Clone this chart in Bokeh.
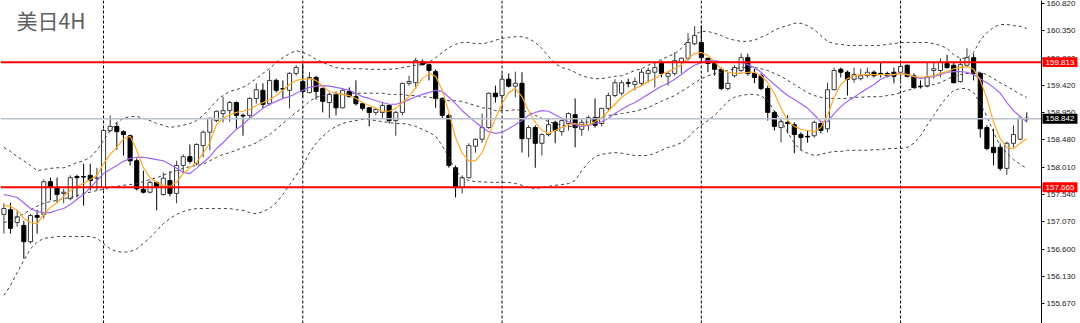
from bokeh.plotting import figure
from bokeh.models import Range1d, FixedTicker, PrintfTickFormatter, Span, Label, ColumnDataSource, LinearAxis
from bokeh.core.properties import value
from bokeh.embed import file_html
from bokeh.resources import INLINE

title_text = "美日4H"

opens = [157.20, 157.28, 157.06, 157.01, 156.73, 157.18, 157.20, 157.76, 157.66, 157.56,
         157.47, 157.85, 157.85, 157.87, 157.82, 157.66, 158.64, 158.71, 158.62, 158.55,
         158.12, 157.63, 157.58, 157.75, 157.54, 157.78, 157.56, 158.04, 158.19, 158.07,
         158.38, 158.61, 158.81, 158.93, 158.98, 159.12, 158.90, 158.90, 159.19, 159.33,
         159.10, 159.50, 159.36, 159.33, 159.62, 159.48, 159.29, 159.55, 159.36, 159.12,
         159.26, 159.03, 159.31, 159.22, 159.10, 159.03, 158.95, 158.95, 159.07, 158.81,
         158.95, 159.45, 159.46, 159.82, 159.77, 159.65, 159.19, 158.90, 158.00, 157.66,
         157.83, 158.37, 158.49, 158.69, 159.28, 159.24, 159.52, 159.40, 159.45, 158.50,
         158.69, 158.42, 158.57, 158.78, 158.62, 158.76, 158.91, 158.66, 158.74, 158.86,
         158.76, 159.02, 159.24, 159.28, 159.46, 159.43, 159.45, 159.62, 159.64, 159.79,
         159.57, 159.62, 159.81, 159.88, 160.13, 160.15, 159.88, 159.79, 159.69, 159.36,
         159.58, 159.67, 159.89, 159.62, 159.58, 159.36, 158.95, 158.69, 158.78, 158.74,
         158.57, 158.54, 158.55, 158.76, 158.67, 159.34, 159.69, 159.64, 159.52, 159.53,
         159.58, 159.64, 159.62, 159.62, 159.64, 159.64, 159.76, 159.58, 159.40, 159.40,
         159.67, 159.67, 159.79, 159.76, 159.48, 159.76, 159.89, 159.62, 158.69, 158.35,
         158.35, 157.99, 158.42, 158.49, 158.85]
highs = [157.39, 157.40, 157.27, 157.09, 157.21, 157.28, 157.80, 157.83, 157.83, 157.64,
         157.87, 157.88, 158.07, 158.07, 158.00, 158.67, 158.90, 158.78, 158.64, 158.57,
         158.16, 157.95, 157.78, 157.76, 157.92, 157.94, 158.12, 158.23, 158.40, 158.42,
         158.64, 158.86, 158.98, 159.22, 159.15, 159.14, 158.93, 159.21, 159.45, 159.45,
         159.67, 159.53, 159.50, 159.64, 159.76, 159.79, 159.64, 159.58, 159.38, 159.29,
         159.31, 159.36, 159.38, 159.50, 159.12, 159.04, 159.03, 159.12, 159.09, 158.98,
         159.46, 159.58, 159.89, 159.86, 159.79, 159.69, 159.21, 158.93, 158.04, 157.87,
         158.42, 158.50, 158.93, 159.29, 159.41, 159.62, 159.62, 159.65, 159.64, 158.73,
         158.73, 158.59, 158.85, 158.81, 158.85, 158.95, 159.19, 158.83, 158.90, 159.19,
         159.03, 159.29, 159.52, 159.50, 159.53, 159.55, 159.70, 159.72, 159.81, 159.84,
         159.64, 159.98, 159.89, 160.31, 160.43, 160.44, 159.89, 159.84, 159.72, 159.64,
         159.76, 159.96, 159.96, 159.70, 159.62, 159.41, 158.98, 158.86, 158.90, 158.78,
         158.61, 158.64, 158.81, 158.78, 159.46, 159.72, 159.72, 159.67, 159.72, 159.70,
         159.72, 159.67, 159.81, 159.65, 159.72, 159.79, 159.77, 159.62, 159.50, 159.81,
         159.81, 159.88, 159.94, 159.81, 159.88, 160.05, 159.96, 159.64, 158.73, 158.67,
         158.42, 158.45, 158.73, 158.86, 158.95]
lows = [156.87, 156.87, 156.99, 156.44, 156.70, 156.87, 157.13, 157.44, 157.40, 157.39,
        157.44, 157.49, 157.35, 157.61, 157.61, 157.61, 158.61, 158.31, 158.21, 158.04,
        157.61, 157.56, 157.56, 157.27, 157.52, 157.51, 157.39, 157.92, 158.07, 158.04,
        158.18, 158.30, 158.78, 158.78, 158.79, 158.67, 158.55, 158.83, 159.10, 159.02,
        159.07, 159.29, 159.19, 159.02, 159.58, 159.21, 159.28, 159.17, 158.95, 158.85,
        158.90, 159.02, 159.21, 159.07, 158.98, 158.71, 158.90, 158.85, 158.76, 158.55,
        158.90, 159.41, 159.36, 159.76, 159.50, 159.03, 158.85, 158.00, 157.49, 157.56,
        157.82, 158.26, 158.43, 158.67, 159.12, 158.98, 159.38, 159.21, 158.26, 158.18,
        158.00, 158.21, 158.54, 158.42, 158.55, 158.64, 158.35, 158.55, 158.64, 158.69,
        158.71, 158.98, 159.21, 159.24, 159.38, 159.33, 159.41, 159.46, 159.38, 159.55,
        159.41, 159.58, 159.62, 159.84, 160.10, 159.81, 159.64, 159.58, 159.33, 159.33,
        159.55, 159.64, 159.58, 159.45, 159.33, 158.81, 158.64, 158.43, 158.59, 158.25,
        158.30, 158.43, 158.52, 158.59, 158.61, 159.33, 159.55, 159.24, 159.46, 159.50,
        159.55, 159.55, 159.55, 159.55, 159.45, 159.46, 159.55, 159.36, 159.36, 159.38,
        159.53, 159.55, 159.70, 159.45, 159.46, 159.72, 159.50, 158.52, 158.30, 158.04,
        157.95, 157.88, 158.35, 158.47, 158.78]
closes = [157.30, 156.96, 157.16, 156.73, 157.18, 157.15, 157.76, 157.68, 157.54, 157.58,
          157.83, 157.83, 157.84, 157.78, 157.82, 158.64, 158.71, 158.62, 158.57, 158.12,
          157.64, 157.58, 157.75, 157.68, 157.82, 157.56, 158.04, 158.19, 158.11, 158.40,
          158.61, 158.85, 158.97, 158.98, 159.12, 158.90, 158.89, 159.19, 159.34, 159.09,
          159.50, 159.33, 159.35, 159.62, 159.72, 159.31, 159.55, 159.31, 159.14, 159.26,
          159.03, 159.33, 159.22, 159.10, 159.02, 158.95, 159.00, 159.07, 158.81, 158.95,
          159.45, 159.48, 159.84, 159.77, 159.67, 159.19, 158.90, 158.04, 157.66, 157.83,
          158.38, 158.49, 158.69, 159.28, 159.22, 159.52, 159.40, 159.45, 158.50, 158.69,
          158.42, 158.57, 158.74, 158.64, 158.81, 158.93, 158.69, 158.78, 158.86, 158.73,
          159.02, 159.24, 159.46, 159.46, 159.45, 159.48, 159.64, 159.67, 159.72, 159.62,
          159.62, 159.84, 159.88, 160.15, 160.27, 159.89, 159.79, 159.69, 159.36, 159.45,
          159.72, 159.89, 159.62, 159.55, 159.36, 158.95, 158.71, 158.79, 158.76, 158.57,
          158.52, 158.53, 158.78, 158.64, 159.34, 159.67, 159.64, 159.52, 159.60, 159.58,
          159.64, 159.58, 159.61, 159.58, 159.57, 159.74, 159.57, 159.38, 159.39, 159.55,
          159.70, 159.81, 159.72, 159.46, 159.77, 159.89, 159.62, 158.67, 158.33, 158.26,
          157.99, 158.42, 158.57, 158.85, 158.842]

ma_fast = [157.35, 157.34, 157.27, 157.13, 157.06, 157.04, 157.20, 157.32, 157.40, 157.51,
           157.61, 157.68, 157.73, 157.80, 157.87, 158.07, 158.23, 158.35, 158.49, 158.54,
           158.30, 158.00, 157.83, 157.75, 157.70, 157.68, 157.75, 157.90, 158.00, 158.09,
           158.25, 158.43, 158.74, 158.85, 158.91, 158.95, 158.97, 159.00, 159.07, 159.12,
           159.17, 159.24, 159.33, 159.43, 159.50, 159.52, 159.53, 159.50, 159.40, 159.31,
           159.28, 159.26, 159.24, 159.19, 159.12, 159.07, 159.02, 158.97, 158.97, 159.02,
           159.12, 159.22, 159.38, 159.53, 159.62, 159.57, 159.33, 158.95, 158.52, 158.25,
           158.12, 158.12, 158.26, 158.55, 158.85, 159.10, 159.29, 159.36, 159.22, 158.98,
           158.78, 158.64, 158.59, 158.64, 158.69, 158.74, 158.76, 158.73, 158.74, 158.79,
           158.86, 158.97, 159.09, 159.21, 159.29, 159.36, 159.41, 159.48, 159.53, 159.60,
           159.65, 159.70, 159.77, 159.88, 159.96, 159.98, 159.93, 159.82, 159.70, 159.64,
           159.62, 159.62, 159.64, 159.64, 159.58, 159.46, 159.28, 159.02, 158.81, 158.71,
           158.66, 158.64, 158.62, 158.69, 158.90, 159.21, 159.43, 159.53, 159.58, 159.60,
           159.60, 159.60, 159.60, 159.60, 159.60, 159.62, 159.60, 159.57, 159.55, 159.57,
           159.58, 159.62, 159.65, 159.70, 159.72, 159.74, 159.69, 159.50, 159.19, 158.78,
           158.50, 158.35, 158.33, 158.42, 158.50]
ma_slow = [157.54, 157.52, 157.49, 157.40, 157.30, 157.25, 157.23, 157.23, 157.27, 157.30,
           157.37, 157.46, 157.54, 157.66, 157.78, 157.90, 157.97, 158.04, 158.11, 158.16,
           158.18, 158.18, 158.16, 158.14, 158.12, 158.06, 157.99, 157.92, 157.90, 157.99,
           158.09, 158.19, 158.33, 158.43, 158.55, 158.66, 158.74, 158.85, 158.93, 159.02,
           159.09, 159.14, 159.19, 159.22, 159.28, 159.33, 159.38, 159.40, 159.41, 159.40,
           159.38, 159.36, 159.33, 159.28, 159.22, 159.19, 159.15, 159.12, 159.09, 159.09,
           159.12, 159.17, 159.22, 159.26, 159.29, 159.33, 159.31, 159.21, 159.10, 158.98,
           158.88, 158.78, 158.69, 158.62, 158.59, 158.61, 158.67, 158.74, 158.81, 158.90,
           158.95, 158.98, 158.97, 158.91, 158.85, 158.79, 158.74, 158.71, 158.73, 158.76,
           158.79, 158.85, 158.93, 159.00, 159.07, 159.12, 159.19, 159.26, 159.33, 159.40,
           159.45, 159.52, 159.60, 159.69, 159.76, 159.81, 159.84, 159.84, 159.82, 159.81,
           159.81, 159.81, 159.77, 159.72, 159.64, 159.53, 159.43, 159.33, 159.24, 159.17,
           159.10, 159.02, 158.91, 158.79, 158.79, 158.93, 159.05, 159.14, 159.21, 159.29,
           159.36, 159.43, 159.52, 159.57, 159.60, 159.62, 159.60, 159.57, 159.53, 159.55,
           159.57, 159.60, 159.64, 159.65, 159.65, 159.64, 159.60, 159.53, 159.46, 159.38,
           159.28, 159.12, 158.98, 158.88, 158.79]
bb_upper = [158.35, 158.28, 158.19, 158.12, 158.04, 157.95, 157.97, 157.99, 158.00, 158.00,
            158.04, 158.09, 158.12, 158.18, 158.30, 158.47, 158.64, 158.78, 158.85, 158.88,
            158.88, 158.85, 158.81, 158.76, 158.73, 158.69, 158.71, 158.73, 158.76, 158.81,
            158.90, 159.02, 159.15, 159.24, 159.31, 159.34, 159.38, 159.45, 159.53, 159.62,
            159.70, 159.81, 159.89, 159.96, 160.01, 159.98, 159.93, 159.86, 159.81, 159.76,
            159.72, 159.70, 159.70, 159.70, 159.70, 159.69, 159.69, 159.69, 159.69, 159.70,
            159.72, 159.74, 159.76, 159.77, 159.81, 159.89, 159.98, 160.06, 160.12, 160.15,
            160.15, 160.13, 160.13, 160.15, 160.19, 160.22, 160.24, 160.25, 160.25, 160.22,
            160.15, 160.05, 159.91, 159.79, 159.72, 159.69, 159.64, 159.58, 159.55, 159.53,
            159.53, 159.55, 159.57, 159.58, 159.62, 159.67, 159.70, 159.76, 159.81, 159.86,
            159.91, 159.96, 160.05, 160.19, 160.29, 160.34, 160.34, 160.31, 160.27, 160.22,
            160.19, 160.17, 160.17, 160.19, 160.24, 160.29, 160.36, 160.41, 160.44, 160.48,
            160.48, 160.44, 160.37, 160.27, 160.17, 160.13, 160.12, 160.10, 160.10, 160.10,
            160.10, 160.10, 160.10, 160.12, 160.13, 160.15, 160.15, 160.15, 160.15, 160.15,
            160.13, 160.10, 160.05, 159.94, 159.88, 159.88, 159.98, 160.19, 160.32, 160.41,
            160.46, 160.46, 160.44, 160.43, 160.39]
bb_mid = [157.06, 157.09, 157.15, 157.21, 157.28, 157.34, 157.39, 157.42, 157.44, 157.47,
          157.49, 157.52, 157.56, 157.58, 157.61, 157.63, 157.66, 157.68, 157.70, 157.71,
          157.73, 157.76, 157.80, 157.83, 157.87, 157.92, 157.95, 157.99, 158.02, 158.04,
          158.06, 158.12, 158.18, 158.23, 158.26, 158.30, 158.35, 158.38, 158.43, 158.50,
          158.57, 158.66, 158.76, 158.86, 158.95, 159.03, 159.14, 159.21, 159.24, 159.26,
          159.26, 159.26, 159.28, 159.28, 159.28, 159.28, 159.28, 159.28, 159.26, 159.26,
          159.26, 159.24, 159.24, 159.22, 159.21, 159.19, 159.17, 159.15, 159.15, 159.14,
          159.10, 159.07, 159.03, 159.02, 158.98, 158.98, 158.98, 159.00, 158.98, 158.95,
          158.90, 158.85, 158.79, 158.76, 158.73, 158.71, 158.71, 158.74, 158.79, 158.85,
          158.88, 158.90, 158.91, 158.93, 158.95, 158.97, 159.00, 159.03, 159.09, 159.14,
          159.19, 159.24, 159.31, 159.38, 159.46, 159.53, 159.58, 159.62, 159.64, 159.67,
          159.70, 159.72, 159.72, 159.72, 159.70, 159.67, 159.62, 159.57, 159.50, 159.43,
          159.36, 159.29, 159.24, 159.21, 159.19, 159.19, 159.19, 159.19, 159.21, 159.21,
          159.22, 159.22, 159.22, 159.24, 159.26, 159.29, 159.33, 159.36, 159.40, 159.41,
          159.43, 159.46, 159.52, 159.57, 159.60, 159.62, 159.64, 159.64, 159.60, 159.53,
          159.46, 159.40, 159.33, 159.26, 159.21]
bb_lower = [155.81, 155.98, 156.20, 156.41, 156.61, 156.72, 156.79, 156.80, 156.82, 156.82,
            156.82, 156.82, 156.82, 156.82, 156.79, 156.70, 156.61, 156.56, 156.55, 156.56,
            156.61, 156.70, 156.80, 156.92, 157.04, 157.13, 157.20, 157.25, 157.28, 157.30,
            157.30, 157.30, 157.30, 157.30, 157.30, 157.28, 157.27, 157.23, 157.21, 157.25,
            157.30, 157.40, 157.54, 157.71, 157.87, 158.04, 158.26, 158.42, 158.54, 158.64,
            158.71, 158.76, 158.79, 158.81, 158.83, 158.83, 158.81, 158.79, 158.78, 158.76,
            158.76, 158.74, 158.71, 158.66, 158.61, 158.54, 158.38, 158.18, 157.95, 157.83,
            157.78, 157.76, 157.76, 157.75, 157.75, 157.75, 157.75, 157.73, 157.70, 157.66,
            157.64, 157.66, 157.68, 157.70, 157.71, 157.73, 157.78, 157.95, 158.09, 158.19,
            158.23, 158.25, 158.26, 158.25, 158.23, 158.21, 158.21, 158.21, 158.25, 158.30,
            158.35, 158.38, 158.43, 158.52, 158.64, 158.73, 158.81, 158.90, 159.02, 159.14,
            159.21, 159.24, 159.26, 159.26, 159.24, 159.15, 158.98, 158.81, 158.61, 158.42,
            158.30, 158.25, 158.21, 158.23, 158.26, 158.28, 158.28, 158.30, 158.30, 158.30,
            158.30, 158.31, 158.31, 158.33, 158.33, 158.33, 158.35, 158.42, 158.55, 158.73,
            158.90, 159.07, 159.22, 159.33, 159.36, 159.36, 159.29, 159.10, 158.88, 158.61,
            158.38, 158.25, 158.14, 158.06, 157.99]

price_ticks = [160.820, 160.350, 159.880, 159.420, 158.950, 158.480,
               158.010, 157.540, 157.070, 156.600, 156.130, 155.670]
resistance = 159.813
support = 157.665
last_price = 158.842
week_starts = [15, 45, 75, 105, 135]

n = len(closes)
idx = list(range(n))
up = [c >= o for o, c in zip(opens, closes)]
src = ColumnDataSource(dict(
    x=idx,
    high=highs,
    low=lows,
    top=[max(o, c) for o, c in zip(opens, closes)],
    bottom=[min(o, c) for o, c in zip(opens, closes)],
    fill=["white" if u else "black" for u in up],
    line=["#3a3a3a" if u else "black" for u in up],
))

# horizontal geometry: one bar every ~6.64 px, price scale begins at 1041 px
W, H = 1080, 323
bar_px = 6.642
x_start = -3.4 / bar_px
x_end = x_start + W / bar_px
scale_x = x_start + 1041 / bar_px

p = figure(width=W, height=H,
           x_range=Range1d(x_start, x_end), y_range=Range1d(155.3265, 160.8715),
           output_backend="svg", toolbar_location=None,
           x_axis_location=None, y_axis_location=None,
           min_border=0)
p.outline_line_color = None
p.grid.visible = False
p.background_fill_color = "white"
p.border_fill_color = "white"

ax = LinearAxis(fixed_location=scale_x)
ax.ticker = FixedTicker(ticks=price_ticks)
ax.formatter = PrintfTickFormatter(format="%.3f")
ax.major_label_text_font = "Liberation Sans"
ax.major_label_text_font_size = "8px"
ax.major_label_text_color = "#1a1a1a"
ax.axis_line_color = "black"
ax.major_tick_line_color = "black"
ax.major_tick_out = 3
ax.major_tick_in = 0
ax.minor_tick_line_color = None
ax.major_label_standoff = 2
p.add_layout(ax, "right")

for w in week_starts:
    p.add_layout(Span(location=w, dimension="height", line_color="black",
                      line_dash="3 2", line_width=1, level="underlay"))

p.segment(x0="x", y0="high", x1="x", y1="low", line_color="line", line_width=1, source=src)
p.vbar(x="x", width=0.62, top="top", bottom="bottom", fill_color="fill",
       line_color="line", line_width=1, source=src)

for band in (bb_upper, bb_mid, bb_lower):
    p.line(idx, band, line_color="#404040", line_dash="3 3", line_width=1)
p.line(idx, ma_slow, line_color="#a065f2", line_width=1.2)
p.line(idx, ma_fast, line_color="#ffa826", line_width=1.2)

levels = [last_price, resistance, support]
p.segment(x0=x_start, x1=scale_x, y0=[last_price], y1=[last_price],
          line_color="#b9c1c9", line_width=1.5)
p.segment(x0=x_start, x1=scale_x, y0=[resistance, support], y1=[resistance, support],
          line_color="#ff0000", line_width=2)

p.add_layout(Label(x=16, y=319, x_units="screen", y_units="screen", text=title_text,
                   text_font="Noto Sans CJK SC", text_font_size="21px",
                   text_color="#606060", text_baseline="top", text_align="left"))

# price tags over the price scale
tag_src = ColumnDataSource(dict(
    y=[resistance, last_price, support],
    color=["#ff0000", "black", "#ff0000"],
    label=[f"{v:.3f}" for v in (resistance, last_price, support)],
))
tag_x = x_start + 1059.5 / bar_px
r1 = p.rect(x=tag_x, y="y", width=35 / bar_px, height=0.17, fill_color="color",
            line_color=None, source=tag_src)
r2 = p.text(x=tag_x, y="y", text="label", text_align="center", text_baseline="middle",
            text_color="white", text_font=value("Liberation Sans"), text_font_size="8px",
            source=tag_src)
r1.level = "overlay"
r2.level = "overlay"

open("out.html", "w").write(file_html(p, INLINE))
